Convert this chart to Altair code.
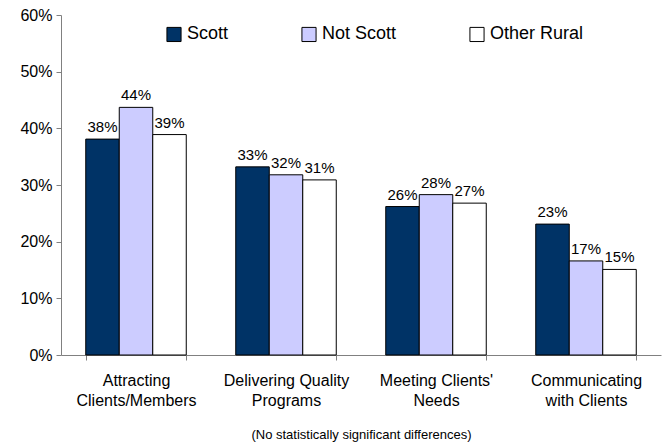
import altair as alt
import pandas as pd

categories = ["Attracting\nClients/Members", "Delivering Quality\nPrograms",
              "Meeting Clients'\nNeeds", "Communicating\nwith Clients"]
series = ["Scott", "Not Scott", "Other Rural"]
scott = [38.1, 33.2, 26.2, 23.1]
not_scott = [43.7, 31.8, 28.3, 16.6]
other_rural = [38.9, 30.9, 26.8, 15.1]
colors = ["#003366", "#CCCCFF", "#FFFFFF"]
footnote = "(No statistically significant differences)"

rows = []
for name, vals in zip(series, [scott, not_scott, other_rural]):
    for c, v in zip(categories, vals):
        rows.append({"category": c, "series": name, "value": v,
                     "label": f"{round(v):.0f}%"})
df = pd.DataFrame(rows)

FONT = "Liberation Sans"

x_enc = alt.X("category:N", sort=categories,
              scale=alt.Scale(paddingInner=0.33, paddingOuter=0.165),
              axis=alt.Axis(title=footnote, labelAngle=0,
                            labelExpr="split(datum.label, '\\n')",
                            labelFontSize=16, labelColor="black",
                            labelPadding=12, labelLineHeight=20,
                            tickBand="extent", tickSize=5,
                            tickColor="#808080", domainColor="#808080",
                            titleFontSize=13, titleFontWeight="normal",
                            titleColor="black", titlePadding=20))
xo_enc = alt.XOffset("series:N", sort=series,
                     scale=alt.Scale(paddingInner=0, paddingOuter=0))
y_enc = alt.Y("value:Q",
              scale=alt.Scale(domain=[0, 60], nice=False),
              axis=alt.Axis(title=None, values=[0, 10, 20, 30, 40, 50, 60],
                            labelExpr="datum.value + '%'",
                            labelFontSize=16, labelColor="black",
                            labelPadding=4, tickSize=5, grid=False,
                            tickColor="#808080", domainColor="#808080"))

bars = alt.Chart(df).mark_bar(stroke="black", strokeWidth=1).encode(
    x=x_enc, xOffset=xo_enc, y=y_enc,
    fill=alt.Fill("series:N", sort=series,
                  scale=alt.Scale(domain=series, range=colors),
                  legend=alt.Legend(title=None, orient="none",
                                    legendX=104, legendY=10,
                                    direction="horizontal",
                                    symbolType="square", symbolSize=200,
                                    symbolStrokeColor="black",
                                    symbolStrokeWidth=1,
                                    symbolOpacity=1,
                                    labelFontSize=18, labelColor="black",
                                    labelOffset=4, columnPadding=70)),
)

labels = alt.Chart(df).mark_text(baseline="bottom", dy=-4, fontSize=15,
                                 color="black", font=FONT).encode(
    x=alt.X("category:N", sort=categories), xOffset=xo_enc,
    y="value:Q", text="label:N")

chart = alt.layer(bars, labels).properties(
    width=600, height=340,
    autosize=alt.AutoSizeParams(type="none"),
    padding={"left": 53, "top": 7, "right": 1, "bottom": 90},
).configure(font=FONT).configure_view(stroke=None)

chart.save("out.html", embed_options={"renderer": "svg", "actions": False})
